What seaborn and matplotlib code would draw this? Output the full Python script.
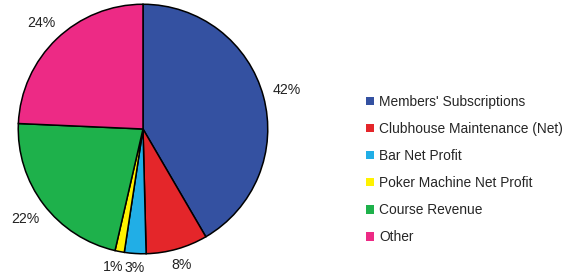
import matplotlib
matplotlib.use("Agg")
import numpy as np
import matplotlib.pyplot as plt
from matplotlib.patches import Patch
import seaborn as sns

# values (percent of income)
categories = ["Members' Subscriptions", "Clubhouse Maintenance (Net)", "Bar Net Profit",
              "Poker Machine Net Profit", "Course Revenue", "Other"]
shares = [41.6, 8.0, 2.8, 1.2, 22.1, 24.3]
colors = ["#3451A1", "#E4262A", "#21AEE6", "#FFF200", "#1EB14B", "#ED2A85"]

sns.set_theme(style="white")
plt.rcParams['font.family'] = ['Liberation Sans', 'DejaVu Sans']

fig = plt.figure(figsize=(5.66, 2.8), dpi=100)
ax = fig.add_axes([17 / 566, 25 / 280, 252 / 566, 252 / 280])

wedges, texts, autotexts = ax.pie(
    shares, colors=colors, startangle=90, counterclock=False,
    autopct='%.0f%%', pctdistance=1.15,
    wedgeprops=dict(edgecolor='black', linewidth=1.1),
    textprops=dict(fontsize=10.2, color='#222222'))
ax.set_xlim(-1.01, 1.01)
ax.set_ylim(-1.01, 1.01)
ax.set_aspect('equal')
ax.axis('off')

# push each percent label just outside the rim, so its box clears the circle
fig.canvas.draw()
renderer = fig.canvas.get_renderer()
per_px = 2.02 / 252
for w, t in zip(wedges, autotexts):
    mid = np.deg2rad((w.theta1 + w.theta2) / 2)
    ux, uy = np.cos(mid), np.sin(mid)
    bb = t.get_window_extent(renderer)
    hw, hh = bb.width / 2 * per_px, bb.height / 2 * per_px * 0.8
    d = 1.07 + hw * abs(ux) + hh * abs(uy)
    t.set_position((d * ux, d * uy))

# small slices sit side by side at the bottom: slide a clashing label left
for a, b in zip(autotexts[:-1], autotexts[1:]):
    ba, bb = a.get_window_extent(renderer), b.get_window_extent(renderer)
    if ba.overlaps(bb):
        x, y = b.get_position()
        b.set_position((x - (bb.x1 - ba.x0 + 1) * per_px, y))

handles = [Patch(facecolor=c, edgecolor='none') for c in colors]
fig.legend(handles, categories, loc='center left', bbox_to_anchor=(366 / 566, 0.395),
           frameon=False, fontsize=9.9, handlelength=0.6, handleheight=0.6,
           handletextpad=0.35, labelspacing=0.95, borderpad=0, borderaxespad=0)

fig.savefig('out.png', dpi=100)
